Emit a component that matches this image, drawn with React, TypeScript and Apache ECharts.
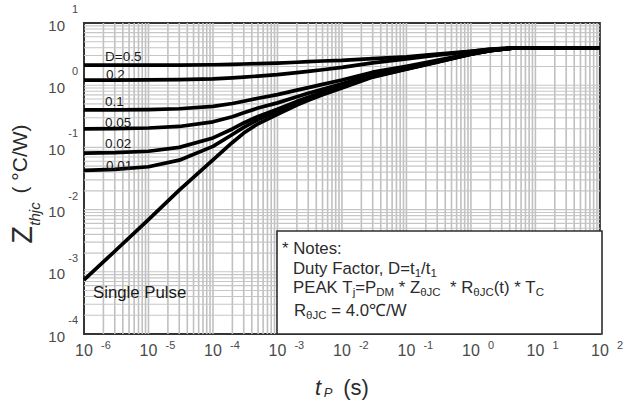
import React, { useEffect, useRef } from 'react';
import * as echarts from 'echarts';

// Pulse width t_P (s) at which each curve is sampled
const pulseWidths = [1e-6, 3e-6, 1e-5, 3e-5, 1e-4, 2e-4, 3e-4, 5e-4, 1e-3, 2e-3, 3e-3, 5e-3, 1e-2, 3e-2, 1e-1, 3e-1, 1, 2, 5, 10, 100];

// Transient thermal impedance Z_thjc (°C/W) for each duty factor
const zD050 = [2.10, 2.10, 2.11, 2.11, 2.13, 2.16, 2.19, 2.22, 2.27, 2.34, 2.39, 2.45, 2.50, 2.68, 2.85, 3.15, 3.5, 3.8, 4.0, 4.0, 4.0];
const zD020 = [1.21, 1.21, 1.22, 1.23, 1.26, 1.31, 1.35, 1.40, 1.48, 1.59, 1.67, 1.77, 1.93, 2.29, 2.65, 3.05, 3.5, 3.78, 4.0, 4.0, 4.0];
const zD010 = [0.40, 0.40, 0.406, 0.418, 0.457, 0.508, 0.553, 0.616, 0.706, 0.832, 0.913, 1.03, 1.21, 1.62, 2.02, 2.52, 3.24, 3.64, 4.0, 4.0, 4.0];
const zD005 = [0.199, 0.200, 0.205, 0.217, 0.258, 0.312, 0.36, 0.43, 0.52, 0.65, 0.74, 0.86, 1.05, 1.48, 1.91, 2.43, 3.19, 3.62, 4.0, 4.0, 4.0];
const zD002 = [0.0807, 0.0822, 0.0868, 0.100, 0.142, 0.198, 0.247, 0.315, 0.41, 0.55, 0.64, 0.77, 0.96, 1.40, 1.84, 2.38, 3.17, 3.6, 4.0, 4.0, 4.0];
const zD001 = [0.0427, 0.0442, 0.0488, 0.0623, 0.104, 0.161, 0.21, 0.28, 0.38, 0.52, 0.61, 0.74, 0.93, 1.38, 1.82, 2.37, 3.16, 3.6, 4.0, 4.0, 4.0];
const zSingle = [7.4e-4, 2.14e-3, 6.9e-3, 2.05e-2, 0.063, 0.12, 0.17, 0.24, 0.34, 0.48, 0.57, 0.70, 0.90, 1.35, 1.80, 2.35, 3.15, 3.6, 4.0, 4.0, 4.0];

const curveNames = ['D=0.5', '0.2', '0.1', '0.05', '0.02', '0.01', 'Single Pulse'];
const curveValues = [zD050, zD020, zD010, zD005, zD002, zD001, zSingle];

// Axis ranges (decades)
const X_MIN = 1e-6;
const X_MAX = 100;
const Y_MIN = 1e-4;
const Y_MAX = 10;

const FONT = '"Liberation Sans", Arial, Helvetica, sans-serif';
const LABEL_GRAY = '#4a4a4a';
const TEXT_DARK = '#2b2b2b';

// log-grid positions: 1..9 x 10^k inside each decade (outer frame excluded)
function logGridValues(minExp: number, maxExp: number): number[] {
  const out: number[] = [];
  for (let k = minExp; k < maxExp; k++) {
    for (let m = 1; m <= 9; m++) {
      if (m === 1 && k === minExp) continue;
      out.push(m * Math.pow(10, k));
    }
  }
  return out;
}

const expOf = (v: number) => String(Math.round(Math.log10(v)));

export default function App() {
  const ref = useRef<HTMLDivElement>(null);

  useEffect(() => {
    if (!ref.current) return;
    const chart = echarts.init(ref.current, null, { renderer: 'svg' });

    const curveSeries = curveValues.map((vals, i) => ({
      name: curveNames[i],
      type: 'line',
      xAxisIndex: 0,
      yAxisIndex: 0,
      data: pulseWidths.map((t, j) => [t, vals[j]]),
      showSymbol: false,
      symbol: 'none',
      smooth: false,
      z: 5,
      lineStyle: { color: '#000', width: 3.7, join: 'round' },
      silent: true,
    }));

    const logAxisBase = (type: 'x' | 'y') => ({
      type: 'log',
      logBase: 10,
      min: type === 'x' ? X_MIN : Y_MIN,
      max: type === 'x' ? X_MAX : Y_MAX,
      splitNumber: type === 'x' ? 8 : 5,
      axisLine: { show: false },
      axisTick: { show: false },
      splitLine: { show: false },
    });

    chart.setOption({
      animation: false,
      backgroundColor: '#fff',
      grid: {
        left: 84,
        top: 23,
        width: 518,
        height: 311,
        show: true,
        backgroundColor: 'transparent',
        borderColor: '#353535',
        borderWidth: 2,
      },
      xAxis: [
        // mantissa "10" centred under each decade
        {
          ...logAxisBase('x'),
          position: 'bottom',
          axisLabel: {
            margin: 8,
            fontSize: 16,
            lineHeight: 16,
            fontFamily: FONT,
            color: LABEL_GRAY,
            formatter: () => '10',
          },
        },
        // exponent, raised and to the right of the mantissa
        {
          ...logAxisBase('x'),
          position: 'bottom',
          axisLabel: {
            margin: 5,
            align: 'left',
            fontSize: 11,
            lineHeight: 12,
            fontFamily: FONT,
            color: LABEL_GRAY,
            padding: [0, 0, 0, 17],
            formatter: (v: number) => expOf(v),
          },
        },
      ],
      yAxis: [
        {
          ...logAxisBase('y'),
          position: 'left',
          axisLabel: {
            margin: 19,
            fontSize: 15,
            fontFamily: FONT,
            color: LABEL_GRAY,
            formatter: () => '{sp| }\n{b|10}',
            rich: {
              sp: { fontSize: 4, lineHeight: 4 },
              b: { fontSize: 15, lineHeight: 16, fontFamily: FONT, color: LABEL_GRAY },
            },
          },
        },
        // exponent sits above the mantissa: a blank spacer line below lifts it
        {
          ...logAxisBase('y'),
          position: 'left',
          axisLabel: {
            margin: 6,
            fontSize: 11,
            fontFamily: FONT,
            color: LABEL_GRAY,
            formatter: (v: number) => `{e|${expOf(v)}}\n{sp| }`,
            rich: {
              e: { fontSize: 11, lineHeight: 12, fontFamily: FONT, color: LABEL_GRAY },
              sp: { fontSize: 4, lineHeight: 28 },
            },
          },
        },
      ],
      series: curveSeries,
    } as any);

    // grid lines of the log-log paper, positioned through the axes' scales
    const px = (v: number) => chart.convertToPixel({ xAxisIndex: 0 } as any, v) as number;
    const py = (v: number) => chart.convertToPixel({ yAxisIndex: 0 } as any, v) as number;
    const top = py(Y_MAX);
    const bottom = py(Y_MIN);
    const left = px(X_MIN);
    const right = px(X_MAX);

    const vLines = logGridValues(-6, 2).map((v) => ({
      type: 'line',
      z: 1,
      silent: true,
      shape: { x1: px(v), y1: top, x2: px(v), y2: bottom },
      style: { stroke: '#c0c0c0', lineWidth: 1.6 },
    }));
    const hLines = logGridValues(-4, 1).map((v) => ({
      type: 'line',
      z: 1,
      silent: true,
      shape: { x1: left, y1: py(v), x2: right, y2: py(v) },
      style: { stroke: '#c6c6c6', lineWidth: 1.1 },
    }));

    const curveLabel = (text: string, x: number, y: number, size = 13.5) => ({
      type: 'text',
      z: 20,
      silent: true,
      style: {
        text,
        x,
        y,
        fill: '#1a1a1a',
        fontSize: size,
        fontFamily: FONT,
        align: 'left',
        verticalAlign: 'middle',
      },
    });

    const noteRich = {
      n: { fontSize: 16.8, fontFamily: FONT, fill: TEXT_DARK, lineHeight: 22, verticalAlign: 'middle' },
      s: { fontSize: 11.5, fontFamily: FONT, fill: TEXT_DARK, lineHeight: 12, verticalAlign: 'bottom' },
    };
    const noteLine = (text: string, x: number, y: number) => ({
      type: 'text',
      z: 21,
      silent: true,
      style: {
        text,
        x,
        y,
        rich: noteRich,
        fontSize: 16.8,
        fontFamily: FONT,
        fill: TEXT_DARK,
        lineHeight: 22,
        align: 'left',
        verticalAlign: 'middle',
      },
    });

    chart.setOption({
      graphic: [
        ...vLines,
        ...hLines,
        // curve captions
        curveLabel('D=0.5', 105, 56),
        curveLabel('0.2', 106, 74),
        curveLabel('0.1', 105, 101),
        curveLabel('0.05', 105, 122),
        curveLabel('0.02', 105, 143),
        curveLabel('0.01', 106, 165),
        curveLabel('Single Pulse', 93, 292, 16.8),
        // notes panel
        {
          type: 'rect',
          z: 15,
          silent: true,
          shape: { x: 277, y: 231, width: 325, height: 103 },
          style: { fill: '#fff', stroke: '#2e2e2e', lineWidth: 1.6 },
        },
        noteLine('{n|* Notes:}', 282, 248),
        noteLine('{n|Duty Factor, D=t}{s|1}{n|/t}{s|1}', 293, 268),
        noteLine('{n|PEAK T}{s|j}{n|=P}{s|DM}{n| * Z}{s|θJC}{n|  * R}{s|θJC}{n|(t) * T}{s|C}', 293, 287),
        noteLine('{n|R}{s|θJC}{n| = 4.0℃/W}', 294, 310),
        // y-axis title, rotated
        {
          type: 'text',
          z: 20,
          silent: true,
          x: 22,
          y: 235,
          rotation: Math.PI / 2,
          style: { text: 'Z', fontSize: 29, fontFamily: FONT, fill: TEXT_DARK, align: 'center', verticalAlign: 'middle' },
        },
        {
          type: 'text',
          z: 20,
          silent: true,
          x: 34,
          y: 214,
          rotation: Math.PI / 2,
          style: { text: 'thjc', fontSize: 15, fontStyle: 'italic', fontFamily: FONT, fill: TEXT_DARK, align: 'center', verticalAlign: 'middle' },
        },
        {
          type: 'text',
          z: 20,
          silent: true,
          x: 19,
          y: 159,
          rotation: Math.PI / 2,
          style: { text: '( °C/W)', fontSize: 21, fontFamily: FONT, fill: TEXT_DARK, align: 'center', verticalAlign: 'middle' },
        },
        // x-axis title
        {
          type: 'text',
          z: 20,
          silent: true,
          style: { text: 't', x: 318, y: 387, fontSize: 22, fontStyle: 'italic', fontFamily: FONT, fill: TEXT_DARK, align: 'center', verticalAlign: 'middle' },
        },
        {
          type: 'text',
          z: 20,
          silent: true,
          style: { text: 'P', x: 328, y: 392, fontSize: 13, fontStyle: 'italic', fontFamily: FONT, fill: TEXT_DARK, align: 'center', verticalAlign: 'middle' },
        },
        {
          type: 'text',
          z: 20,
          silent: true,
          style: { text: '(s)', x: 356, y: 387, fontSize: 22, fontFamily: FONT, fill: TEXT_DARK, align: 'center', verticalAlign: 'middle' },
        },
      ],
    } as any);

    return () => chart.dispose();
  }, []);

  return (
    <div
      ref={ref}
      style={{ position: 'fixed', left: 0, top: 0, width: 626, height: 403, background: '#fff' }}
    />
  );
}
